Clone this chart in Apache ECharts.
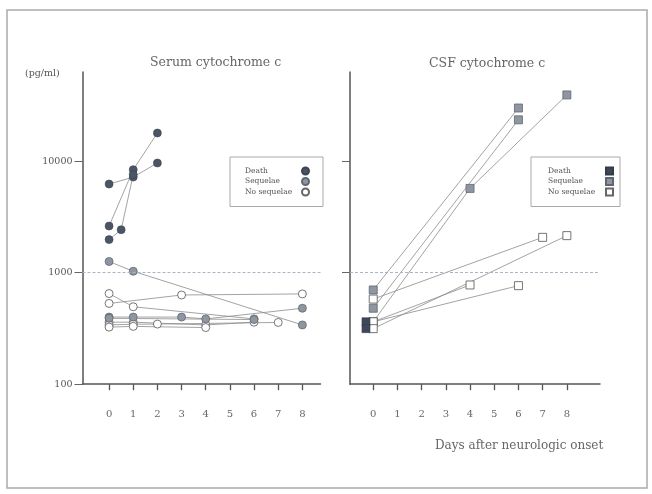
<!DOCTYPE html>
<html>
<head>
<meta charset="utf-8">
<script src="https://cdn.jsdelivr.net/npm/echarts@6/dist/echarts.min.js"></script>
<style>html,body{margin:0;padding:0;background:#fff}#c{width:652px;height:494px}</style>
</head>
<body>
<div id="c"></div>
<script>
// ---- data (pg/ml vs days after neurologic onset) ----
const dayTicks = [0, 1, 2, 3, 4, 5, 6, 7, 8];
const serumYTicks = [100, 1000, 10000];
const csfYTicks = [1000, 10000];
const refLevel = 1000;

// Serum: one array per patient, [day, value]
const serumDeath1 = [[0, 6240], [1, 7200], [2, 9640]];
const serumDeath2 = [[0, 2620], [1, 8400], [2, 17900]];
const serumDeath3 = [[0, 1980], [0.5, 2430], [1, 7600]];
const serumSeq1 = [[0, 1260], [1, 1030], [8, 340]];
const serumSeq2 = [[0, 400], [1, 400], [3, 400], [4, 385], [8, 480]];
const serumSeq3 = [[0, 390], [6, 380]];
const serumNoSeq1 = [[0, 650], [1, 495], [6, 385]];
const serumNoSeq2 = [[0, 530], [3, 631], [8, 645]];
const serumNoSeq3 = [[0, 360], [1, 360], [4, 340], [6, 360]];
const serumNoSeq4 = [[0, 340], [1, 345], [2, 346], [7, 358]];
const serumNoSeq5 = [[0, 325], [1, 330], [4, 322]];

// CSF
const csfDeath = [[-0.3, 363], [-0.3, 315]];
const csfSeq1 = [[0, 700], [6, 30000]];
const csfSeq2 = [[0, 480], [6, 23500]];
const csfSeq3 = [[0, 363], [4, 5700], [8, 39300]];
const csfNoSeq1 = [[0, 580], [7, 2075]];
const csfNoSeq2 = [[0, 363], [4, 776]];
const csfNoSeq3 = [[0, 363], [6, 765]];
const csfNoSeq4 = [[0, 315], [8, 2150]];

// ---- styles ----
const FONT = 'DejaVu Serif';
const LINE = { color: '#8c8c8c', width: 0.8 };
const deathStyle = { color: '#4a5565', borderColor: '#3c4554', borderWidth: 0.6 };
const seqStyle = { color: '#8f96a0', borderColor: '#5f6773', borderWidth: 0.8 };
const noSeqStyle = { color: '#ffffff', borderColor: '#666', borderWidth: 0.9 };
const csfDeathStyle = { color: '#3f4858', borderColor: '#333b48', borderWidth: 0.6 };

function ser(name, data, grid, symbol, style, size, z, noLine) {
  return {
    type: 'line', name: name, data: data,
    xAxisIndex: grid, yAxisIndex: grid,
    symbol: symbol, symbolSize: size, showAllSymbol: true,
    lineStyle: noLine ? { width: 0, opacity: 0 } : LINE,
    itemStyle: style, z: z, silent: true,
    emphasis: { disabled: true }
  };
}

const series = [];
// serum
[serumNoSeq1, serumNoSeq2, serumNoSeq3, serumNoSeq4, serumNoSeq5].forEach(d =>
  series.push(ser('No sequelae', d, 0, 'circle', noSeqStyle, 8, 3)));
[serumSeq1, serumSeq2, serumSeq3].forEach(d =>
  series.push(ser('Sequelae', d, 0, 'circle', seqStyle, 8, 4)));
[serumDeath1, serumDeath2, serumDeath3].forEach(d =>
  series.push(ser('Death', d, 0, 'circle', deathStyle, 8, 5)));
// csf
[csfSeq1, csfSeq2, csfSeq3].forEach(d =>
  series.push(ser('Sequelae ', d, 1, 'rect', seqStyle, 8, 3)));
[csfNoSeq1, csfNoSeq2, csfNoSeq3, csfNoSeq4].forEach(d =>
  series.push(ser('No sequelae ', d, 1, 'rect', noSeqStyle, 8, 4)));
series.push(ser('Death ', csfDeath, 1, 'rect', csfDeathStyle, 8, 5, true));

const refLine = (grid) => ({
  type: 'line', name: 'ref' + grid, data: [], xAxisIndex: grid, yAxisIndex: grid,
  silent: true,
  markLine: {
    silent: true, symbol: 'none', label: { show: false },
    lineStyle: { color: '#a9b5c4', type: [3, 2], width: 1 },
    data: [{ yAxis: refLevel }]
  }
});
series.push(refLine(0), refLine(1));

const xAx = (grid, min, max) => ({
  gridIndex: grid, type: 'value', min: min, max: max,
  axisLine: { show: true, onZero: false, lineStyle: { color: '#555', width: 1.5 } },
  axisTick: { show: true, customValues: dayTicks, length: 6, lineStyle: { color: '#555', width: 1.3 } },
  axisLabel: { customValues: dayTicks, margin: 25, fontSize: 10, color: '#666', fontFamily: FONT },
  splitLine: { show: false }
});
const yAx = (grid, ticks, showLabel) => ({
  gridIndex: grid, type: 'log', logBase: 10, min: 100, max: 63096,
  axisLine: { show: true, onZero: false, lineStyle: { color: '#555', width: 1.5 } },
  axisTick: { show: true, customValues: ticks, length: 8, lineStyle: { color: '#666', width: 1 } },
  axisLabel: { show: showLabel, customValues: ticks, margin: 10, fontSize: 9.5, color: '#555',
    fontFamily: FONT, formatter: v => String(Math.round(v)) },
  splitLine: { show: false }, minorTick: { show: false }
});

const legendText = (w) => ({
  fontSize: 7.5, color: '#555', fontFamily: FONT,
  rich: { a: { width: w, align: 'left', fontSize: 7.5, color: '#555', fontFamily: FONT } }
});
const legendBase = {
  orient: 'vertical', align: 'right', selectedMode: false,
  itemWidth: 7, itemHeight: 7, itemGap: 1.5,
  borderColor: '#aaa', borderWidth: 1
};

const option = {
  animation: false,
  backgroundColor: '#fff',
  grid: [
    { left: 82.5, top: 72, width: 238, height: 312.2 },
    { left: 350, top: 72, width: 250, height: 312.2 }
  ],
  xAxis: [xAx(0, -1.1, 8.75), xAx(1, -0.96, 9.37)],
  yAxis: [yAx(0, serumYTicks, true), yAx(1, csfYTicks, false)],
  legend: [
    Object.assign({}, legendBase, {
      left: 230, top: 157, padding: [9.5, 13, 10, 15],
      formatter: n => '{a|' + n.trim() + '}',
      textStyle: legendText(52),
      data: [{ name: 'Death', icon: 'circle' }, { name: 'Sequelae', icon: 'circle' }, { name: 'No sequelae', icon: 'circle' }]
    }),
    Object.assign({}, legendBase, {
      left: 531, top: 157, padding: [9.5, 6, 10, 17],
      formatter: n => '{a|' + n.trim() + '}',
      textStyle: legendText(53),
      data: [{ name: 'Death ', icon: 'rect' }, { name: 'Sequelae ', icon: 'rect' }, { name: 'No sequelae ', icon: 'rect' }]
    })
  ],
  graphic: [
    { type: 'rect', silent: true, shape: { x: 7, y: 10, width: 640, height: 478 },
      style: { fill: 'none', stroke: '#aaa', lineWidth: 1.5 } },
    { type: 'text', left: 150, top: 56, silent: true,
      style: { text: 'Serum cytochrome c', fontSize: 12.5, fontFamily: FONT, fill: '#666' } },
    { type: 'text', left: 429, top: 57, silent: true,
      style: { text: 'CSF cytochrome c', fontSize: 12.5, fontFamily: FONT, fill: '#666' } },
    { type: 'text', left: 25, top: 69, silent: true,
      style: { text: '(pg/ml)', fontSize: 9.5, fontFamily: FONT, fill: '#555' } },
    { type: 'text', left: 435, top: 440, silent: true,
      style: { text: 'Days after neurologic onset', fontSize: 12, fontFamily: FONT, fill: '#666' } }
  ],
  series: series
};

const chart = echarts.init(document.getElementById('c'), null, { renderer: 'canvas' });
chart.setOption(option);
</script>
</body>
</html>
